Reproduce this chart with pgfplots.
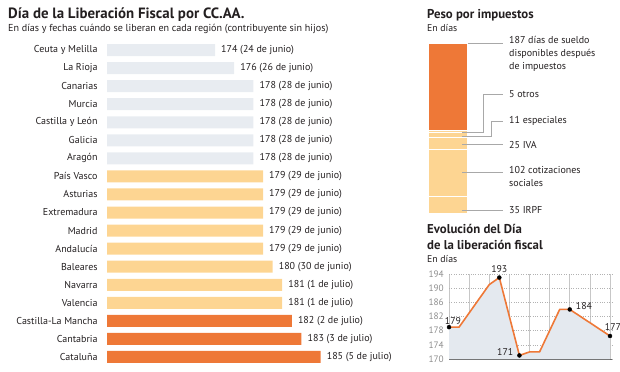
\documentclass[border=0pt]{standalone}
\usepackage{pgfplots}
\pgfplotsset{compat=1.18}
\usepackage{pgfplotstable}
\usepackage{fontspec}
\setmainfont{PT Sans}
\definecolor{cgrey}{HTML}{E8ECF1}
\definecolor{clight}{HTML}{FDD592}
\definecolor{corange}{HTML}{EE7837}
\definecolor{carea}{HTML}{E4E9EF}
\definecolor{ctext}{HTML}{231F20}
\definecolor{clead}{HTML}{A8A8A8}
\definecolor{ctick}{HTML}{8C8C8C}

\pgfplotstableread[col sep=comma]{
i,v,lab
0,174,174 (24 de junio)
1,176,176 (26 de junio)
2,178,178 (28 de junio)
3,178,178 (28 de junio)
4,178,178 (28 de junio)
5,178,178 (28 de junio)
6,178,178 (28 de junio)
}\tgrey
\pgfplotstableread[col sep=comma]{
i,v,lab
7,179,179 (29 de junio)
8,179,179 (29 de junio)
9,179,179 (29 de junio)
10,179,179 (29 de junio)
11,179,179 (29 de junio)
12,180,180 (30 de junio)
13,181,181 (1 de julio)
14,181,181 (1 de julio)
}\tlight
\pgfplotstableread[col sep=comma]{
i,v,lab
15,182,182 (2 de julio)
16,183,183 (3 de julio)
17,185,185 (5 de julio)
}\torange
\pgfplotstableread{
x y
0 179
1 179
4 191
5 193
7 171
8 172
9 172
11 184
12 184
16 176.5
}\tevol

\begin{document}
\begin{tikzpicture}[x=1bp,y=1bp]
\path[use as bounding box] (0,0) rectangle (620,371);
\coordinate (LA) at (107,5);
\coordinate (SB) at (428,158);
\coordinate (LC) at (449,12);
% ---------- left chart ----------
\node[anchor=base west, inner sep=0pt, text=ctext, font=\bfseries\fontsize{14.9bp}{17bp}\selectfont] at (8,353) {Día de la Liberación Fiscal por CC.AA.};
\node[anchor=base west, inner sep=0pt, text=ctext, font=\fontsize{10.1bp}{12bp}\selectfont] at (8,340) {En días y fechas cuándo se liberan en cada región (contribuyente sin hijos)};

\begin{axis}[
  at={(LA)}, anchor=south west,
  scale only axis, width=288bp, height=325bp,
  xmin=162.75, xmax=192.75, ymin=-0.5, ymax=17.5, y dir=reverse,
  xbar, bar shift=0pt, bar width=12bp,
  axis line style={draw=none}, tick style={draw=none},
  xtick=\empty, ytick={0,...,17},
  yticklabels={Ceuta y Melilla, La Rioja, Canarias, Murcia, Castilla y León, Galicia, Aragón, País Vasco, Asturias, Extremadura, Madrid, Andalucía, Baleares, Navarra, Valencia, Castilla-La Mancha, Cantabria, Cataluña},
  yticklabel style={font=\fontsize{10bp}{12bp}\selectfont, inner sep=0pt, xshift=-5bp, text=ctext},
  nodes near coords, point meta=explicit symbolic,
  nodes near coords style={anchor=west, inner sep=0pt, xshift=6bp, font=\fontsize{10bp}{12bp}\selectfont, text=ctext},
]
\addplot[fill=cgrey, draw=none] table[x=v, y=i, meta=lab]{\tgrey};
\addplot[fill=clight, draw=none] table[x=v, y=i, meta=lab]{\tlight};
\addplot[fill=corange, draw=none] table[x=v, y=i, meta=lab]{\torange};
\end{axis}

% ---------- stacked bar ----------
\node[anchor=base west, inner sep=0pt, text=ctext, font=\bfseries\fontsize{12.8bp}{15bp}\selectfont] at (427,352.5) {Peso por impuestos};
\node[anchor=base west, inner sep=0pt, text=ctext, font=\fontsize{9.8bp}{12bp}\selectfont] at (427,339.3) {En días};

\begin{axis}[
  at={(SB)}, anchor=south west,
  scale only axis, width=39bp, height=170bp,
  xmin=-0.5, xmax=0.5, ymin=0, ymax=365,
  ybar stacked, bar width=39bp,
  axis line style={draw=none}, tick style={draw=none},
  xtick=\empty, ytick=\empty,
]
\addplot[fill=clight, draw=white, line width=0.7pt] coordinates {(0,35)};
\addplot[fill=clight, draw=white, line width=0.7pt] coordinates {(0,102)};
\addplot[fill=clight, draw=white, line width=0.7pt] coordinates {(0,25)};
\addplot[fill=clight, draw=white, line width=0.7pt] coordinates {(0,11)};
\addplot[fill=clight, draw=white, line width=0.7pt] coordinates {(0,5)};
\addplot[fill=corange, draw=white, line width=0.7pt] coordinates {(0,187)};
\end{axis}

\begin{scope}[draw=clead, line width=0.5pt]
\draw (468,328) -- (503,328);
\draw (462,238.7) -- (483,238.7) -- (483,277) -- (503,277);
\draw (462,235) -- (491,235) -- (491,250) -- (503,250);
\draw (462,226.5) -- (503,226.5);
\draw (462,199) -- (503,199);
\draw (462,161) -- (503,161);
\end{scope}
\begin{scope}[font=\fontsize{10bp}{13bp}\selectfont]
\node[anchor=north west, inner sep=0pt, align=left, text=ctext] at (509,334.5) {187 días de sueldo\\disponibles después\\de impuestos};
\node[anchor=west, inner sep=0pt, text=ctext] at (509,277) {5 otros};
\node[anchor=west, inner sep=0pt, text=ctext] at (509,250) {11 especiales};
\node[anchor=west, inner sep=0pt, text=ctext] at (509,226) {25 IVA};
\node[anchor=north west, inner sep=0pt, align=left, text=ctext] at (509,205) {102 cotizaciones\\sociales};
\node[anchor=west, inner sep=0pt, text=ctext] at (509,161) {35 IRPF};
\end{scope}

% ---------- evolution line chart ----------
\node[anchor=base west, inner sep=0pt, text=ctext, font=\bfseries\fontsize{12.8bp}{15bp}\selectfont] at (427,137.3) {Evolución del Día};
\node[anchor=base west, inner sep=0pt, text=ctext, font=\bfseries\fontsize{12.8bp}{15bp}\selectfont] at (427,121.7) {de la liberación fiscal};
\node[anchor=base west, inner sep=0pt, text=ctext, font=\fontsize{9.8bp}{12bp}\selectfont] at (427,108.3) {En días};

\begin{axis}[
  at={(LC)}, anchor=south west,
  scale only axis, width=163bp, height=85bp,
  xmin=0, xmax=16.2, ymin=170, ymax=194,
  xtick={0,2,...,16}, xticklabels={},
  ytick={170,174,...,194},
  xmajorgrids, ymajorgrids,
  x grid style={draw=black!22, line width=0.6pt},
  y grid style={draw=black!30, dotted, line width=0.5pt},
  axis x line*=bottom, axis y line*=left,
  x axis line style={-, draw=black!60, line width=0.7pt},
  y axis line style={draw=none},
  tick style={draw=none},
  /pgf/number format/assume math mode=true,
  yticklabel style={font=\fontsize{9.3bp}{11bp}\selectfont, text=ctick, inner sep=0pt, xshift=-5bp},
  clip=true,
]
\addplot[fill=carea, draw=none] table[x=x, y=y]{\tevol} \closedcycle;
\addplot[color=corange, line width=1.6pt, line join=round] table[x=x, y=y]{\tevol};
\addplot[only marks, mark=*, mark size=2bp, black, nodes near coords={179},
  nodes near coords style={anchor=south, inner sep=0pt, yshift=2bp, xshift=4bp, font=\fontsize{9.8bp}{11bp}\selectfont, text=ctext}] coordinates {(0,179)};
\addplot[only marks, mark=*, mark size=2bp, black, nodes near coords={193},
  nodes near coords style={anchor=south, inner sep=0pt, yshift=5bp, font=\fontsize{9.8bp}{11bp}\selectfont, text=ctext}] coordinates {(5,193)};
\addplot[only marks, mark=*, mark size=2bp, black, nodes near coords={171},
  nodes near coords style={anchor=east, inner sep=0pt, xshift=-6bp, yshift=3bp, font=\fontsize{9.8bp}{11bp}\selectfont, text=ctext}] coordinates {(7,171)};
\addplot[only marks, mark=*, mark size=2bp, black, nodes near coords={184},
  nodes near coords style={anchor=west, inner sep=0pt, xshift=6bp, yshift=3bp, font=\fontsize{9.8bp}{11bp}\selectfont, text=ctext}] coordinates {(12,184)};
\addplot[only marks, mark=*, mark size=2bp, black, nodes near coords={177},
  nodes near coords style={anchor=south, inner sep=0pt, yshift=5bp, xshift=3bp, font=\fontsize{9.8bp}{11bp}\selectfont, text=ctext}] coordinates {(16,176.5)};
\end{axis}
\end{tikzpicture}
\end{document}
